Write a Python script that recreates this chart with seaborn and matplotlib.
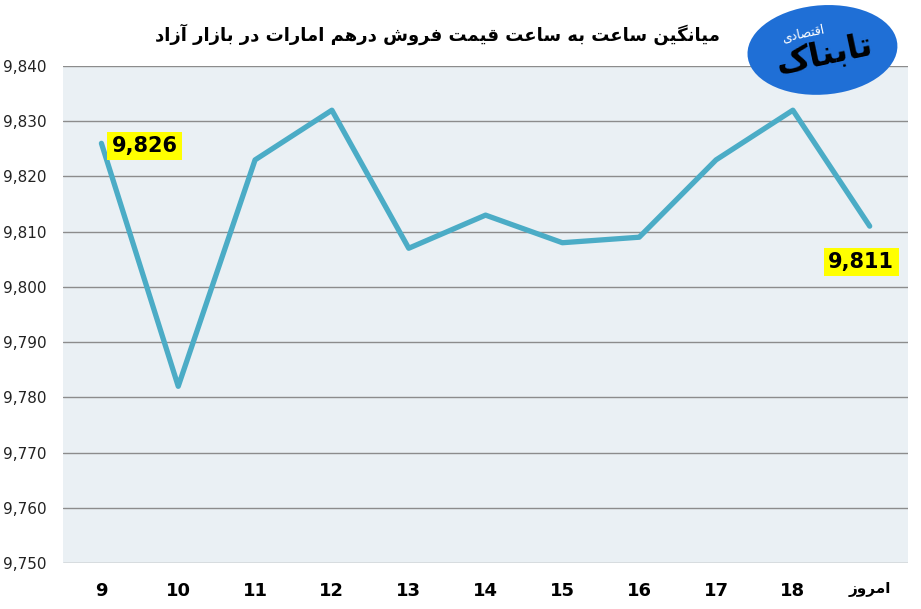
import pandas as pd
import matplotlib.pyplot as plt
import seaborn as sns
from matplotlib.patches import Ellipse

hours = ["9", "10", "11", "12", "13", "14", "15", "16", "17", "18", "امروز"]
prices = [9826, 9782, 9823, 9832, 9807, 9813, 9808, 9809, 9823, 9832, 9811]
y_ticks = [9750, 9760, 9770, 9780, 9790, 9800, 9810, 9820, 9830, 9840]
title = "میانگین ساعت به ساعت قیمت فروش درهم امارات در بازار آزاد"

# minimal arabic/persian shaping (matplotlib has no bidi / joining)
forms = {
    "ا": (0xFE8D, 0xFE8E, None, None),
    "آ": (0xFE81, 0xFE82, None, None),
    "د": (0xFEA9, 0xFEAA, None, None),
    "ر": (0xFEAD, 0xFEAE, None, None),
    "ز": (0xFEAF, 0xFEB0, None, None),
    "و": (0xFEED, 0xFEEE, None, None),
    "ب": (0xFE8F, 0xFE90, 0xFE91, 0xFE92),
    "ت": (0xFE95, 0xFE96, 0xFE97, 0xFE98),
    "س": (0xFEB1, 0xFEB2, 0xFEB3, 0xFEB4),
    "ش": (0xFEB5, 0xFEB6, 0xFEB7, 0xFEB8),
    "ص": (0xFEB9, 0xFEBA, 0xFEBB, 0xFEBC),
    "ع": (0xFEC9, 0xFECA, 0xFECB, 0xFECC),
    "ف": (0xFED1, 0xFED2, 0xFED3, 0xFED4),
    "ق": (0xFED5, 0xFED6, 0xFED7, 0xFED8),
    "م": (0xFEE1, 0xFEE2, 0xFEE3, 0xFEE4),
    "ن": (0xFEE5, 0xFEE6, 0xFEE7, 0xFEE8),
    "ه": (0xFEE9, 0xFEEA, 0xFEEB, 0xFEEC),
    "ی": (0xFBFC, 0xFBFD, 0xFBFE, 0xFBFF),
    "گ": (0xFB92, 0xFB93, 0xFB94, 0xFB95),
    "ک": (0xFB8E, 0xFB8F, 0xFB90, 0xFB91),
}


def shape(text):
    if not any(ch in forms for ch in text):
        return text
    out = []
    for i, ch in enumerate(text):
        if ch not in forms:
            out.append(ch)
            continue
        prev = text[i - 1] if i > 0 else ""
        nxt = text[i + 1] if i + 1 < len(text) else ""
        join_prev = prev in forms and forms[prev][2] is not None
        join_next = forms[ch][2] is not None and nxt in forms
        iso, fin, ini, med = forms[ch]
        if join_prev and join_next:
            out.append(chr(med))
        elif join_prev:
            out.append(chr(fin))
        elif join_next:
            out.append(chr(ini))
        else:
            out.append(chr(iso))
    return "".join(out)[::-1]


labels = [shape(h) for h in hours]
df = pd.DataFrame({"hour": labels, "price": prices})

sns.set_style("white")
plt.rcParams["font.family"] = ["DejaVu Sans"]
plt.rcParams["text.color"] = "black"

fig = plt.figure(figsize=(9.21, 6.09), dpi=100)
ax = fig.add_axes([0.0684, 0.0755, 0.9176, 0.8161])
ax.set_facecolor("#EAF0F4")

sns.lineplot(data=df, x="hour", y="price", color="#4BACC6", linewidth=3.8,
             solid_capstyle="round", ax=ax)

ax.set_ylim(9750, 9840)
ax.set_xlim(-0.5, len(hours) - 0.5)
ax.set_yticks(y_ticks)
ax.set_yticklabels([f"{v:,}" for v in y_ticks], fontsize=11, color="#222222",
                   family="DejaVu Sans Condensed")
ax.yaxis.grid(True, color="#8C8C8C", linewidth=1)
ax.set_axisbelow(True)
for s in ax.spines.values():
    s.set_visible(False)
ax.tick_params(axis="both", length=0, pad=12)
ax.tick_params(axis="x", pad=14)
for t in ax.get_xticklabels():
    t.set_fontweight("bold")
    t.set_fontsize(13)
    t.set_family("DejaVu Sans Condensed")
    t.set_color("black")
ax.get_xticklabels()[-1].set_fontsize(11)
ax.set_xlabel("")
ax.set_ylabel("")

box = dict(boxstyle="square,pad=0.2", facecolor="#FFFF00", edgecolor="none")
ax.annotate(f"{prices[0]:,}", xy=(0, prices[0]), xytext=(31, -2),
            textcoords="offset points", ha="center", va="center",
            fontsize=15, fontweight="bold", bbox=box, color="black",
            family="DejaVu Sans Condensed")
ax.annotate(f"{prices[-1]:,}", xy=(len(hours) - 1, prices[-1]), xytext=(-6, -26),
            textcoords="offset points", ha="center", va="center",
            fontsize=15, fontweight="bold", bbox=box, color="black",
            family="DejaVu Sans Condensed")

fig.text(0.475, 0.943, shape(title), ha="center", va="center", color="black",
         fontsize=13, fontweight="bold", family="DejaVu Sans Condensed")

# rough stand-in for the site logo
logo = Ellipse((0.893, 0.918), 0.165, 0.145, angle=20, transform=fig.transFigure,
               facecolor="#1F6FD6", edgecolor="none", zorder=5)
fig.add_artist(logo)
fig.text(0.895, 0.91, shape("تابناک"), ha="center", va="center", fontsize=24,
         fontweight="bold", color="black", zorder=6, rotation=12)
fig.text(0.872, 0.945, shape("اقتصادی"), ha="center", va="center", fontsize=9,
         color="white", zorder=7, rotation=12)

fig.savefig("out.png", dpi=100)
